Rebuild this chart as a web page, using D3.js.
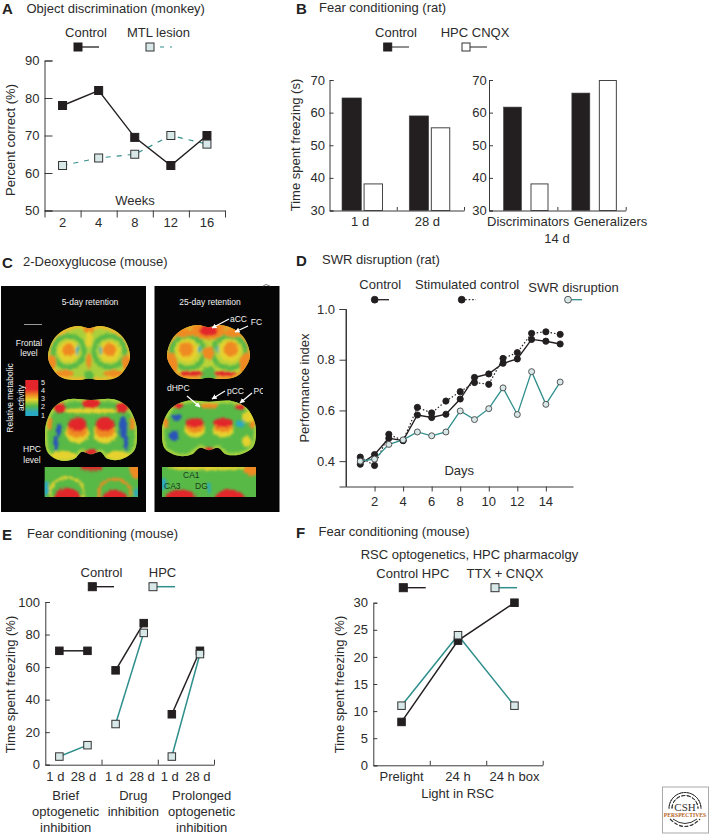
<!DOCTYPE html>
<html><head><meta charset="utf-8">
<script src="https://cdnjs.cloudflare.com/ajax/libs/d3/7.8.5/d3.min.js"></script>
<style>html,body{margin:0;padding:0;background:#fff}svg{display:block}text{font-family:"Liberation Sans",Arial,sans-serif;fill:#2b2b2b}</style>
</head><body><script>
// ---------- Panel A
const weeks=["2","4","8","12","16"];
const aControl=[78,82,69.5,62,70];
const aLesion=[62,64,65,70,67.7];
const aTicks=[50,60,70,80,90];
// ---------- Panel B
const bCats1=["1 d","28 d"];
const bControl1=[64.5,59];
const bCnqx1=[38.3,55.5];
const bCats2=["Discriminators","Generalizers"];
const bControl2=[61.7,66];
const bCnqx2=[38.3,70];
const bTicks=[30,40,50,60,70];
// ---------- Panel D
const days=[1,2,3,4,5,6,7,8,9,10,11,12,13,14,15];
const dControl=[.388,.426,.49,.481,.582,.572,.585,.645,.73,.744,.786,.803,.88,.873,.862];
const dStim=[.416,.383,.506,.481,.612,.59,.637,.674,.71,.703,.805,.828,.904,.91,.9];
const dSwr=[.40,.408,.466,.484,.515,.50,.515,.598,.564,.607,.689,.584,.753,.624,.712];
const dYTicks=[0.4,0.6,0.8,1.0];
const dXTicks=[2,4,6,8,10,12,14];
// ---------- Panel E
const eGroups=["Brief","Drug","Prolonged"];
const eTimes=["1 d","28 d"];
const eControl=[[70,70],[58,87],[31,70]];
const eHpc=[[5,12],[25,81],[5,68]];
const eYTicks=[0,20,40,60,80,100];
// ---------- Panel F
const fCats=["Prelight","24 h","24 h box"];
const fControl=[8,23,30];
const fTtx=[11,24,11];
const fYTicks=[0,5,10,15,20,25,30];

const INK="#231f20",TEAL="#2f8f8c",PALE="#d8e7e7",AX="#3a3a3a";
const svg=d3.select("body").append("svg").attr("width",710).attr("height",835);
const defs=svg.append("defs");

function txt(x,y,s,o={}){
  const t=svg.append("text").attr("x",x).attr("y",y).text(s)
    .attr("font-size",o.size||13).attr("text-anchor",o.anchor||"start");
  if(o.weight)t.attr("font-weight",o.weight);
  if(o.fill)t.style("fill",o.fill);
  if(o.family)t.style("font-family",o.family);
  if(o.rotate)t.attr("transform",`rotate(${o.rotate} ${x} ${y})`);
  return t;
}
const mid={anchor:"middle"};
function yAxis(scale,x,ticks,inner,labelRight,fmt){
  const ax=d3.axisLeft(scale).tickValues(ticks).tickSize(inner).tickPadding(0);
  const g=svg.append("g").attr("transform",`translate(${x},0)`).call(ax);
  g.selectAll("path,line").attr("stroke",AX).attr("stroke-width",1);
  g.selectAll("text").remove();
  ticks.forEach(t=>txt(labelRight,scale(t)+4.6,fmt?fmt(t):t,{anchor:"end"}));
  return g;
}
function xBase(y,x0,x1,ticks,len){
  const s=d3.scaleLinear().domain([x0,x1]).range([x0,x1]);
  const g=svg.append("g").attr("transform",`translate(0,${y})`)
    .call(d3.axisBottom(s).tickValues(ticks).tickSize(len).tickSizeOuter(0).tickFormat(""));
  g.selectAll("path,line").attr("stroke",AX).attr("stroke-width",1);
}
function square(x,y,size,fill){
  svg.append("rect").attr("x",x-size/2).attr("y",y-size/2).attr("width",size).attr("height",size)
    .attr("fill",fill).attr("stroke",fill===INK?INK:"#333").attr("stroke-width",1);
}
function circle(x,y,r,fill){
  svg.append("circle").attr("cx",x).attr("cy",y).attr("r",r).attr("fill",fill)
    .attr("stroke",fill===INK?INK:"#444").attr("stroke-width",.9);
}
function path(pts,color,w,dash){
  const p=svg.append("path").attr("d",d3.line()(pts)).attr("fill","none").attr("stroke",color).attr("stroke-width",w);
  if(dash)p.attr("stroke-dasharray",dash);
}
function legend(x,y,x1,kind,fill,color,w,dash){
  path([[x,y],[x1,y]],color,w,dash);
  if(kind==="s")square(x,y,8,fill);else circle(x,y,3.4,fill);
}

// ============ A
txt(2,14,"A",{size:15,weight:"bold",fill:"#222"});
txt(26.5,13,"Object discrimination (monkey)");
txt(86,37,"Control",mid);txt(158.5,37,"MTL lesion",mid);
legend(78,47,99,"s",INK,INK,1.3);
legend(150,47,172,"s",PALE,TEAL,1.2,"4,6");
const ay=d3.scaleLinear().domain([50,90]).range([210.5,60.5]);
const ax=d3.scaleBand().domain(weeks).range([44.5,225]);
yAxis(ay,44.5,aTicks,-8,39.5);
xBase(210.5,44.5,225,d3.range(6).map(i=>44.5+i*ax.bandwidth()),7);
weeks.forEach(w=>txt(ax(w)+ax.bandwidth()/2,226.7,w,mid));
txt(135,205,"Weeks",mid);
txt(14.5,140,"Percent correct (%)",{anchor:"middle",rotate:-90});
const cx=w=>ax(w)+ax.bandwidth()/2;
path(weeks.map((w,i)=>[cx(w),ay(aLesion[i])]),TEAL,1.2,"5,6");
path(weeks.map((w,i)=>[cx(w),ay(aControl[i])]),INK,1.4);
weeks.forEach((w,i)=>square(cx(w),ay(aControl[i]),8,INK));
weeks.forEach((w,i)=>square(cx(w),ay(aLesion[i]),8,PALE));

// ============ B
txt(296,14,"B",{size:15,weight:"bold",fill:"#222"});
txt(319,11.5,"Fear conditioning (rat)");
txt(396,37,"Control",mid);txt(475,37,"HPC CNQX",mid);
legend(387.7,47,409,"s",INK,INK,1);
legend(466,47,487,"s","#fff",INK,1);
const by=d3.scaleLinear().domain([30,70]).range([210.5,80]);
function barPanel(x0,x1,cats,ctrl,hpc,r0,r1,pad){
  yAxis(by,x0,bTicks,-4,x0===329.5?325:486.7);
  const bx=d3.scaleBand().domain(cats).range([x0,x1]);
  xBase(210.5,x0,x1,[x0+bx.bandwidth(),x1],-3.5);
  const inner=d3.scaleBand().domain(["c","h"]).range([r0,r1]).paddingInner(pad);
  cats.forEach((c,i)=>{
    svg.append("rect").attr("x",bx(c)+inner("c")).attr("y",by(ctrl[i])).attr("width",inner.bandwidth())
      .attr("height",by(30)-by(ctrl[i])).attr("fill",INK).attr("stroke","#444").attr("stroke-width",.6);
    svg.append("rect").attr("x",bx(c)+inner("h")+.5).attr("y",by(hpc[i])+.5).attr("width",inner.bandwidth()-1)
      .attr("height",by(30)-by(hpc[i])-.5).attr("fill","#fff").attr("stroke","#444").attr("stroke-width",1);
  });
  return bx;
}
const b1=barPanel(329.5,464,bCats1,bControl1,bCnqx1,12.5,53.5,.1);
const b2=barPanel(489,625.7,bCats2,bControl2,bCnqx2,14.5,59.5,.3333);
bCats1.forEach(c=>txt(b1(c)+b1.bandwidth()/2-3,225.6,c,mid));
bCats2.forEach((c,i)=>txt(b2(c)+b2.bandwidth()/2+[5,19][i],225.6,c,mid));
txt(557,242.7,"14 d",mid);
txt(300,145,"Time spent freezing (s)",{anchor:"middle",rotate:-90});

// ============ C (image panel drawn as textured activity blobs)
txt(2,268,"C",{size:15,weight:"bold",fill:"#222"});
txt(23,266,"2-Deoxyglucose (mouse)");
const RED="#e2252b",ORG="#ef8a22",YEL="#e6d22e",LIME="#a9d03c",GRN="#58b947",BLU="#2c55b8",CYA="#29a9c4";
const frontalOutline=[[.5,.04],[.64,.0],[.82,.09],[.94,.27],[1,.55],[.97,.72],[.84,.95],[.62,1],[.5,.97],[.38,1],[.16,.95],[.03,.72],[0,.55],[.06,.27],[.18,.09],[.36,.0]];
const hpcOutline=[[.5,.03],[.75,.02],[.9,.14],[.98,.36],[1,.55],[.97,.82],[.82,.96],[.68,.95],[.6,.84],[.5,.88],[.4,.84],[.32,.95],[.18,.98],[.03,.85],[0,.55],[.02,.36],[.1,.14],[.25,.02]];
// each blob: x, y, rx, ry, colour (fractions of the slice's box); a sixth value draws only an outline of that width
const front5=[[.25,.47,.19,.29,GRN,5],[.75,.47,.19,.29,GRN,5],[.25,.47,.13,.2,YEL],[.75,.47,.13,.2,YEL],[.25,.44,.08,.12,ORG],[.75,.44,.08,.12,ORG],[.5,.05,.06,.12,ORG],[.5,.25,.04,.15,YEL],[.5,.66,.03,.14,ORG],[.5,.95,.06,.13,GRN],[.04,.68,.06,.14,ORG],[.96,.68,.06,.14,ORG],[.2,.88,.12,.06,ORG],[.8,.88,.12,.06,ORG],[.36,.45,.012,.09,CYA],[.64,.45,.012,.09,CYA]];
const front25=[[.25,.5,.2,.3,GRN,5],[.75,.5,.2,.3,GRN,5],[.5,.1,.2,.17,ORG],[.5,.1,.11,.11,RED],[.24,.48,.13,.2,YEL],[.76,.48,.13,.2,YEL],[.23,.45,.09,.14,ORG],[.77,.45,.09,.14,ORG],[.5,.52,.07,.12,ORG],[.5,.93,.1,.16,GRN],[.05,.72,.08,.2,ORG],[.95,.72,.08,.2,ORG],[.3,.9,.14,.05,RED],[.7,.9,.14,.05,RED],[.2,.15,.13,.07,ORG],[.8,.15,.13,.07,ORG],[.39,.44,.014,.07,CYA],[.61,.44,.014,.07,CYA]];
const hpc5=[[.5,.2,.33,.04,YEL],[.5,.08,.1,.08,RED],[.16,.15,.07,.08,RED],[.84,.15,.07,.08,RED],[.05,.4,.03,.1,ORG],[.95,.4,.03,.1,ORG],[.35,.55,.13,.16,YEL],[.65,.55,.13,.16,YEL],[.35,.5,.11,.12,ORG],[.65,.5,.11,.12,ORG],[.35,.41,.1,.11,RED],[.65,.41,.1,.11,RED],[.15,.5,.025,.11,BLU],[.85,.46,.045,.17,BLU],[.12,.7,.025,.12,BLU],[.88,.7,.025,.12,BLU],[.5,.85,.07,.05,RED],[.2,.9,.14,.07,YEL],[.8,.9,.14,.07,YEL]];
const hpc25=[[.5,.1,.1,.05,ORG],[.17,.1,.06,.05,RED],[.83,.12,.06,.05,RED],[.35,.52,.11,.14,YEL],[.65,.52,.11,.14,YEL],[.35,.47,.1,.1,ORG],[.65,.47,.1,.1,ORG],[.35,.4,.1,.08,RED],[.65,.4,.1,.08,RED],[.16,.3,.06,.05,BLU],[.13,.62,.05,.09,BLU],[.83,.42,.05,.05,CYA],[.5,.88,.07,.05,RED],[.04,.4,.03,.1,ORG],[.96,.4,.03,.1,ORG],[.92,.3,.07,.1,YEL],[.9,.72,.05,.1,YEL]];
const strip5=[[.24,.85,.18,.5,YEL,2.5],[.75,.85,.17,.45,ORG,2.5],[.24,1.05,.14,.35,RED],[.75,1.05,.13,.28,RED],[.5,.02,.12,.1,RED],[.98,.1,.07,.3,ORG],[.01,.7,.03,.25,CYA],[.98,.85,.02,.15,CYA]];
const strip25=[[.2,1.05,.16,.3,RED],[.72,1.05,.16,.3,RED],[.5,.03,.45,.08,YEL],[.95,.1,.08,.2,ORG],[.02,.55,.03,.2,CYA],[.5,.7,.015,.2,CYA]];
const fl=defs.append("filter").attr("id","soft").attr("x","-30%").attr("y","-30%").attr("width","160%").attr("height","160%");
fl.append("feTurbulence").attr("type","fractalNoise").attr("baseFrequency",.45).attr("numOctaves",2).attr("seed",4).attr("result","n");
fl.append("feDisplacementMap").attr("in","SourceGraphic").attr("in2","n").attr("scale",5).attr("xChannelSelector","R").attr("yChannelSelector","G").attr("result","d");
fl.append("feGaussianBlur").attr("in","d").attr("stdDeviation",.8);
let clipN=0;
function slice(x0,x1,y0,y1,outline,blobs,base,rim){
  const id="c"+(clipN++);
  const sx=d3.scaleLinear().domain([0,1]).range([x0,x1]),sy=d3.scaleLinear().domain([0,1]).range([y0,y1]);
  const d=outline?d3.line().x(p=>sx(p[0])).y(p=>sy(p[1])).curve(d3.curveCatmullRomClosed)(outline):
    `M${x0},${y0}H${x1}V${y1}H${x0}Z`;
  defs.append("clipPath").attr("id",id).append("path").attr("d",d);
  const g=svg.append("g").attr("clip-path",`url(#${id})`);
  g.append("rect").attr("x",x0-2).attr("y",y0-2).attr("width",x1-x0+4).attr("height",y1-y0+4).attr("fill",base);
  const f=g.append("g").attr("filter","url(#soft)");
  if(rim)f.append("path").attr("d",d).attr("fill","none").attr("stroke",rim).attr("stroke-width",5);
  blobs.forEach(b=>{
    const e=f.append("ellipse").attr("cx",sx(b[0])).attr("cy",sy(b[1])).attr("rx",b[2]*(x1-x0)).attr("ry",b[3]*(y1-y0));
    if(b[5])e.attr("fill","none").attr("stroke",b[4]).attr("stroke-width",b[5]);else e.attr("fill",b[4]);
  });
}
svg.append("rect").attr("x",1).attr("y",286).attr("width",145).attr("height",226).attr("fill","#050505");
svg.append("rect").attr("x",154.5).attr("y",286).attr("width",125).attr("height",226).attr("fill","#050505");
slice(48,130,326,380,frontalOutline,front5,LIME,"#eeb92c");
slice(45,137,398,462,hpcOutline,hpc5,GRN,LIME);
slice(44.7,138,467,497,null,strip5,GRN);
slice(167,250,325,379,frontalOutline,front25,"#bcd338","#ee9f28");
slice(162,256,400,457,hpcOutline,hpc25,GRN,LIME);
slice(162,256,467,497,null,strip25,GRN);
// colour bar
const cbStops=[[0,RED],[.25,RED],[.42,ORG],[.55,YEL],[.72,GRN],[.9,CYA],[1,CYA]];
const lg=defs.append("linearGradient").attr("id","cb").attr("x1",0).attr("y1",0).attr("x2",0).attr("y2",1);
cbStops.forEach(s=>lg.append("stop").attr("offset",s[0]).attr("stop-color",s[1]));
svg.append("rect").attr("x",25.3).attr("y",380).attr("width",13).attr("height",36).attr("fill","url(#cb)");
const W="#f2f2f2";
[["5",384.5],["4",392.8],["3",401],["2",409.3],["1",417.5]].forEach(a=>txt(41,a[1],a[0],{size:7.2,fill:W}));
txt(12.7,398,"Relative metabolic",{size:8.5,anchor:"middle",rotate:-90,fill:W});
txt(24.3,398,"activity",{size:8.5,anchor:"middle",rotate:-90,fill:W});
txt(90,305,"5-day retention",{size:8.5,anchor:"middle",fill:W});
txt(210,305,"25-day retention",{size:8.5,anchor:"middle",fill:W});
path([[24,324.5],[42,324.5]],"#9a9a9a",1);
[["Frontal",29,346],["level",29,356],["HPC",32,452],["level",32,463]].forEach(a=>txt(a[1],a[2],a[0],{size:8.5,anchor:"middle",fill:W}));
defs.append("clipPath").attr("id","pcclip").append("rect").attr("x",154).attr("y",380).attr("width",109).attr("height",30);
[["aCC",230,321.5],["FC",250.7,325]].forEach(a=>txt(a[1],a[2],a[0],{size:8.5,fill:W}));
[["dHPC",167,391],["pCC",227,394]].forEach(a=>txt(a[1],a[2],a[0],{size:8.5,fill:W}));
txt(253.5,394,"PC",{size:8.5,fill:W}).attr("clip-path","url(#pcclip)");
[["CA1",183,478],["CA3",164,489],["DG",195,489]].forEach(a=>txt(a[1],a[2],a[0],{size:8.5,fill:"#1c3a20"}));
defs.append("marker").attr("id","ah").attr("viewBox","0 0 10 10").attr("refX",9).attr("refY",5).attr("markerWidth",4).attr("markerHeight",4).attr("orient","auto")
  .append("path").attr("d","M0,0L10,5L0,10Z").attr("fill","#fff");
[[[229,319],[212,328]],[[248,326],[235,332]],[[187,396],[200,407]],[[225,391],[212,399]],[[252,393],[240,403]]].forEach(p=>{
  svg.append("path").attr("d",d3.line()(p)).attr("stroke","#fff").attr("stroke-width",1.3).attr("fill","none").attr("marker-end","url(#ah)");
});
path([[263,286],[266,284.5],[270,286]],"#777",1);

// ============ D
txt(296,266,"D",{size:15,weight:"bold",fill:"#222"});
txt(322,264,"SWR disruption (rat)");
txt(359.3,289,"Control");txt(415,289,"Stimulated control");txt(528.3,291.7,"SWR disruption");
legend(374.7,299.7,389,"c",INK,INK,1.3);
legend(461.7,299.7,476,"c",INK,INK,1.2,"1.5,2");
legend(568,299.7,582,"c",PALE,TEAL,1.3);
const dy=d3.scaleLinear().domain([.3,1]).range([486.5,309]);
const dx=d3.scaleLinear().domain([0,15.9]).range([346,573]);
yAxis(dy,346,dYTicks,6.5,335,d3.format(".1f"));
svg.append("line").attr("x1",346).attr("x2",346).attr("y1",309).attr("y2",486.5).attr("stroke",AX);
xBase(486.5,346,573,dXTicks.map(dx),5);
dXTicks.forEach(t=>txt(dx(t),505.7,t,mid));
txt(459.3,475,"Days",mid);
txt(309,388,"Performance index",{anchor:"middle",rotate:-90});
const dLine=a=>days.map((d,i)=>[dx(d),dy(a[i])]);
path(dLine(dStim),INK,1.2,"1.5,2");
path(dLine(dControl),INK,1.4);
path(dLine(dSwr),TEAL,1.3);
days.forEach((d,i)=>circle(dx(d),dy(dControl[i]),3.1,INK));
days.forEach((d,i)=>circle(dx(d),dy(dStim[i]),3.1,INK));
days.forEach((d,i)=>circle(dx(d),dy(dSwr[i]),3,PALE));

// ============ E
txt(2,540,"E",{size:15,weight:"bold",fill:"#222"});
txt(27,538,"Fear conditioning (mouse)");
txt(101.5,577,"Control",mid);txt(162.5,577,"HPC",mid);
legend(92.3,586.7,114,"s",INK,INK,1.4);
legend(153,586.7,175,"s",PALE,TEAL,1.5);
const ey=d3.scaleLinear().domain([0,100]).range([764.7,602]);
const eg=d3.scaleBand().domain(eGroups).range([45.3,214]);
const et=d3.scaleBand().domain(eTimes).range([0,eg.bandwidth()]);
yAxis(ey,45.3,eYTicks,-4.5,40);
xBase(764.7,45.3,214,[1,2,3].map(i=>45.3+i*eg.bandwidth()),-5);
const ex=(g,t)=>eg(g)+et(t)+et.bandwidth()/2;
const eShift=[-4,-1.5,-2];
eGroups.forEach((g,i)=>{
  path(eTimes.map((t,j)=>[ex(g,t),ey(eControl[i][j])]),INK,1.5);
  path(eTimes.map((t,j)=>[ex(g,t),ey(eHpc[i][j])]),TEAL,1.5);
  eTimes.forEach((t,j)=>square(ex(g,t),ey(eControl[i][j]),7.5,INK));
  eTimes.forEach((t,j)=>square(ex(g,t),ey(eHpc[i][j]),7.5,PALE));
  eTimes.forEach(t=>txt(ex(g,t)+eShift[i],780.7,t,mid));
});
[["Brief",65.7,800],["optogenetic",65.7,816],["inhibition",65.7,831.7],["Drug",133.3,800],["inhibition",133.3,816],["Prolonged",201.7,800],["optogenetic",201.7,816],["inhibition",201.7,831.7]]
 .forEach(a=>txt(a[1],a[2],a[0],mid));
txt(14.5,684.5,"Time spent freezing (%)",{anchor:"middle",rotate:-90});

// ============ F
txt(296,538,"F",{size:15,weight:"bold",fill:"#222"});
txt(318.5,536,"Fear conditioning (mouse)");
txt(360.7,559.3,"RSC optogenetics, HPC pharmacolgy");
txt(376.3,578,"Control HPC");txt(466.5,578,"TTX + CNQX");
legend(403.3,587.7,425.7,"s",INK,INK,1.4);
legend(495,587.7,517,"s",PALE,TEAL,1.5);
const fy=d3.scaleLinear().domain([0,30]).range([765.3,602.7]);
const fx=d3.scaleBand().domain(fCats).range([373.3,542.7]);
yAxis(fy,373.3,fYTicks,-4,368);
xBase(765.3,373.3,542.7,[1,2,3].map(i=>373.3+i*fx.bandwidth()),-4.5);
const fc=c=>fx(c)+fx.bandwidth()/2;
path(fCats.map((c,i)=>[fc(c),fy(fControl[i])]),INK,1.5);
path(fCats.map((c,i)=>[fc(c),fy(fTtx[i])]),TEAL,1.5);
fCats.forEach((c,i)=>square(fc(c),fy(fControl[i]),7.5,INK));
fCats.forEach((c,i)=>square(fc(c),fy(fTtx[i]),7.5,PALE));
fCats.forEach(c=>txt(fc(c),781,c,mid));
txt(457.7,797.7,"Light in RSC",mid);
txt(344,684.5,"Time spent freezing (%)",{anchor:"middle",rotate:-90});

// ============ Logo
svg.append("rect").attr("x",662.5).attr("y",787).attr("width",46).attr("height",46).attr("fill","#fff").attr("stroke","#aaa");
[13,16].forEach(r=>{
  svg.append("path").attr("d",d3.arc()({innerRadius:r,outerRadius:r,startAngle:-Math.PI*.5,endAngle:Math.PI*.5})).attr("transform","translate(685,808.5)")
    .attr("fill","none").attr("stroke","#333").attr("stroke-width",1).attr("stroke-dasharray","4,1.5");
});
svg.append("path").attr("d","M670,819Q685,834 700,819").attr("fill","none").attr("stroke","#333").attr("stroke-width",1.2).attr("stroke-dasharray","4,1.5");
svg.append("path").attr("d","M673,819Q685,828 697,819").attr("fill","none").attr("stroke","#333").attr("stroke-width",1);
svg.append("rect").attr("x",664).attr("y",811).attr("width",43).attr("height",6.5).attr("fill","#fff");
txt(685,810.5,"CSH",{size:11,anchor:"middle",family:"Liberation Serif",fill:"#333"});
txt(685,816.7,"PERSPECTIVES",{size:5.6,anchor:"middle",family:"Liberation Serif",weight:"bold",fill:"#b5651d"});
</script></body></html>
